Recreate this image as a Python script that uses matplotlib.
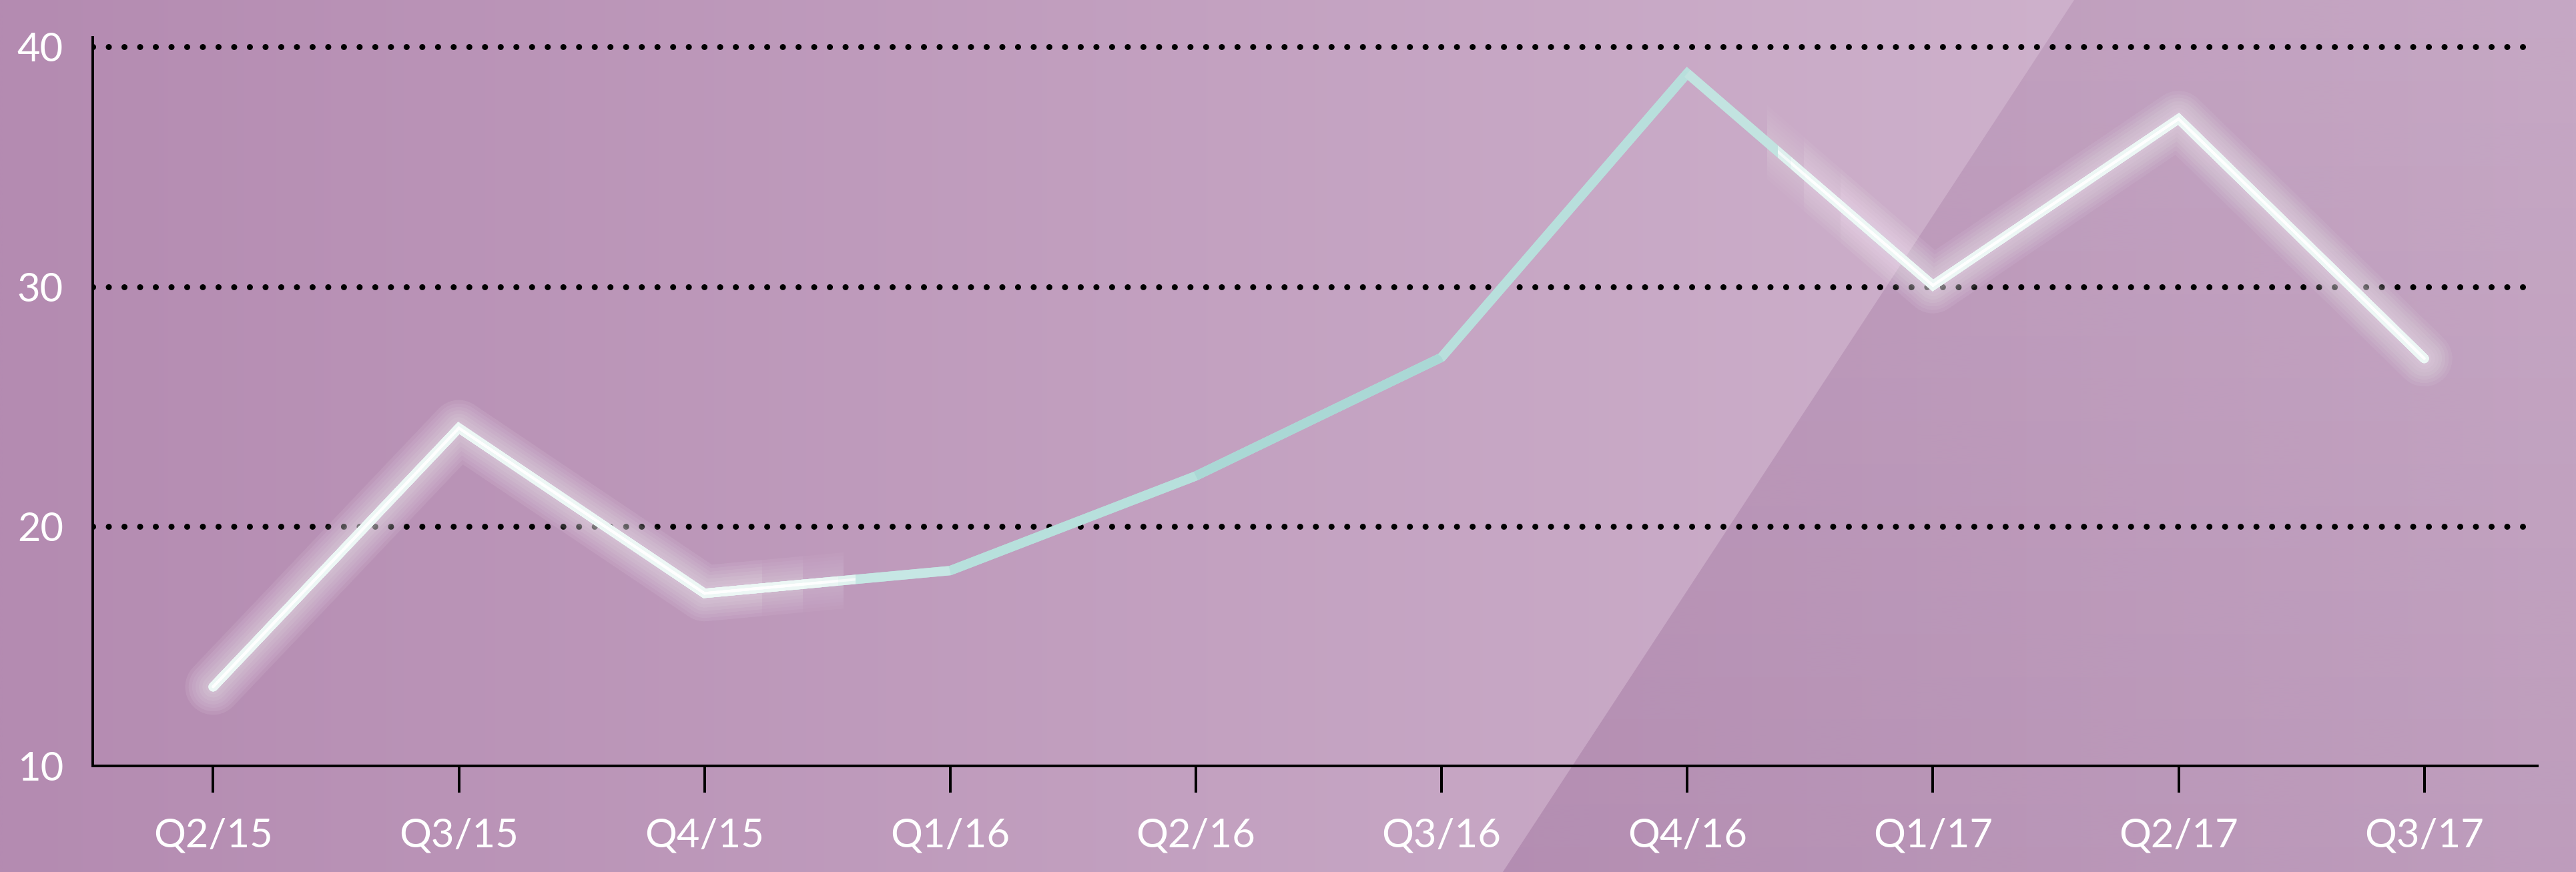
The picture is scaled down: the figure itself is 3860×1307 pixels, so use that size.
import numpy as np
import matplotlib
matplotlib.use('Agg')
import matplotlib.pyplot as plt
from matplotlib.collections import LineCollection
from matplotlib.patches import Polygon
from matplotlib.path import Path

plt.rcParams['font.family'] = ['Lato', 'DejaVu Sans']

# data
quarters = ['Q2/15', 'Q3/15', 'Q4/15', 'Q1/16', 'Q2/16', 'Q3/16', 'Q4/16', 'Q1/17', 'Q2/17', 'Q3/17']
values = [13.3, 24.1, 17.2, 18.15, 22.1, 27.05, 38.9, 30.05, 37.0, 27.0]
y_ticks = [10, 20, 30, 40]

# per-segment colour of the teal part of the line
seg_colors = ['#e8f5f3', '#ddf0ee', '#c6e7e4', '#b7e0dc', '#aad8d5',
              '#b8dfdc', '#c2e3e0', '#e8f5f3', '#e8f5f3']

W, H, DPI = 3860, 1307, 200
PT = 72 / DPI  # points per pixel

fig = plt.figure(figsize=(W / DPI, H / DPI), dpi=DPI)

# background: horizontal purple gradient + darker diagonal panel on the right
bg = fig.add_axes([0, 0, 1, 1], zorder=0)
bg.set_xlim(0, W)
bg.set_ylim(H, 0)
bg.axis('off')
c0 = np.array([180, 139, 177]) / 255
c1 = np.array([212, 186, 210]) / 255
t = np.linspace(0, 1, 400)[None, :, None]
grad = c0 + (c1 - c0) * t
grad = np.repeat(grad, 2, axis=0)
bg.imshow(grad, extent=(0, W, H, 0), aspect='auto', interpolation='bilinear')

ty = np.linspace(0, 1, 200)[:, None]
shade = np.zeros((200, 2, 4))
shade[..., 0] = 110 / 255
shade[..., 1] = 50 / 255
shade[..., 2] = 110 / 255
shade[..., 3] = 0.13 + 0.08 * ty
im = bg.imshow(shade, extent=(0, W, H, 0), aspect='auto', interpolation='bilinear')
panel = Polygon([(3108, 0), (3108 - 0.655 * H, H), (W, H), (W, 0)], closed=True,
                transform=bg.transData)
im.set_clip_path(panel)

# main axes
left, right, top, bottom = 139, 3802, 56, 1148
ax = fig.add_axes([left / W, 1 - bottom / H, (right - left) / W, (bottom - top) / H], zorder=1)
ax.set_facecolor('none')
x = np.arange(len(quarters))
ax.set_xlim(-0.49, 9.46)
ax.set_ylim(10, 40.4)

for s in ['top', 'right']:
    ax.spines[s].set_visible(False)
for s in ['left', 'bottom']:
    ax.spines[s].set_linewidth(4 * PT)
    ax.spines[s].set_color('black')

ax.set_xticks(x)
ax.set_xticklabels(quarters)
ax.set_yticks(y_ticks)
ax.set_yticklabels([str(v) for v in y_ticks])
ax.tick_params(axis='x', length=40 * PT, width=4 * PT, color='black', pad=38 * PT,
               labelsize=21.5, labelcolor='white')
ax.tick_params(axis='y', length=0, pad=44 * PT, labelsize=21.5, labelcolor='white')

# dotted grid lines
for v in y_ticks[1:]:
    ax.axhline(v, color='black', lw=9 * PT, linestyle=(0, (0.01, 2.6)),
               dash_capstyle='round', zorder=2)

# base teal line
lw = 14 * PT
ax.plot(x, values, color='#b9e0dd', lw=lw, solid_joinstyle='miter',
        solid_capstyle='round', zorder=4)
pts = np.column_stack([x, values])
segs = np.stack([pts[:-1], pts[1:]], axis=1)
ax.add_collection(LineCollection(segs, colors=seg_colors, linewidths=lw,
                                 capstyle='butt', zorder=4))


# white glowing overlay on both ends, faded in/out with stacked clip regions
def clip_path(hi1, lo2):
    verts = [(-2, 0), (hi1, 0), (hi1, 100), (-2, 100), (-2, 0),
             (lo2, 0), (12, 0), (12, 100), (lo2, 100), (lo2, 0)]
    codes = [Path.MOVETO, Path.LINETO, Path.LINETO, Path.LINETO, Path.CLOSEPOLY] * 2
    return Path(verts, codes)


def layer_alpha(a, n):
    return 1 - (1 - a) ** (1 / n)


# soft glow, faded over a wider zone
NG = 3
for k in range(NG):
    f = (k + 0.5) / NG
    cp = clip_path(2.15 + f * 0.5, 6.7 - f * 0.45)
    for gw in np.linspace(22, 84, 7):
        ln, = ax.plot(x, values, color='#f8f0f8', lw=gw * PT, alpha=layer_alpha(0.1, NG),
                      solid_joinstyle='round', solid_capstyle='round', zorder=3)
        ln.set_clip_path(cp, ax.transData)

N = 5
for k in range(N):
    f = (k + 0.5) / N
    cp = clip_path(2.3 + f * 0.35, 6.62 - f * 0.28)
    ln, = ax.plot(x, values, color='#eef8f6', lw=lw, alpha=layer_alpha(0.995, N),
                  solid_joinstyle='miter', solid_capstyle='round', zorder=5)
    ln.set_clip_path(cp, ax.transData)
    ln, = ax.plot(x, values, color='white', lw=4 * PT, alpha=layer_alpha(0.995, N),
                  solid_joinstyle='miter', solid_capstyle='round', zorder=6)
    ln.set_clip_path(cp, ax.transData)

fig.savefig('out.png', dpi=DPI)
